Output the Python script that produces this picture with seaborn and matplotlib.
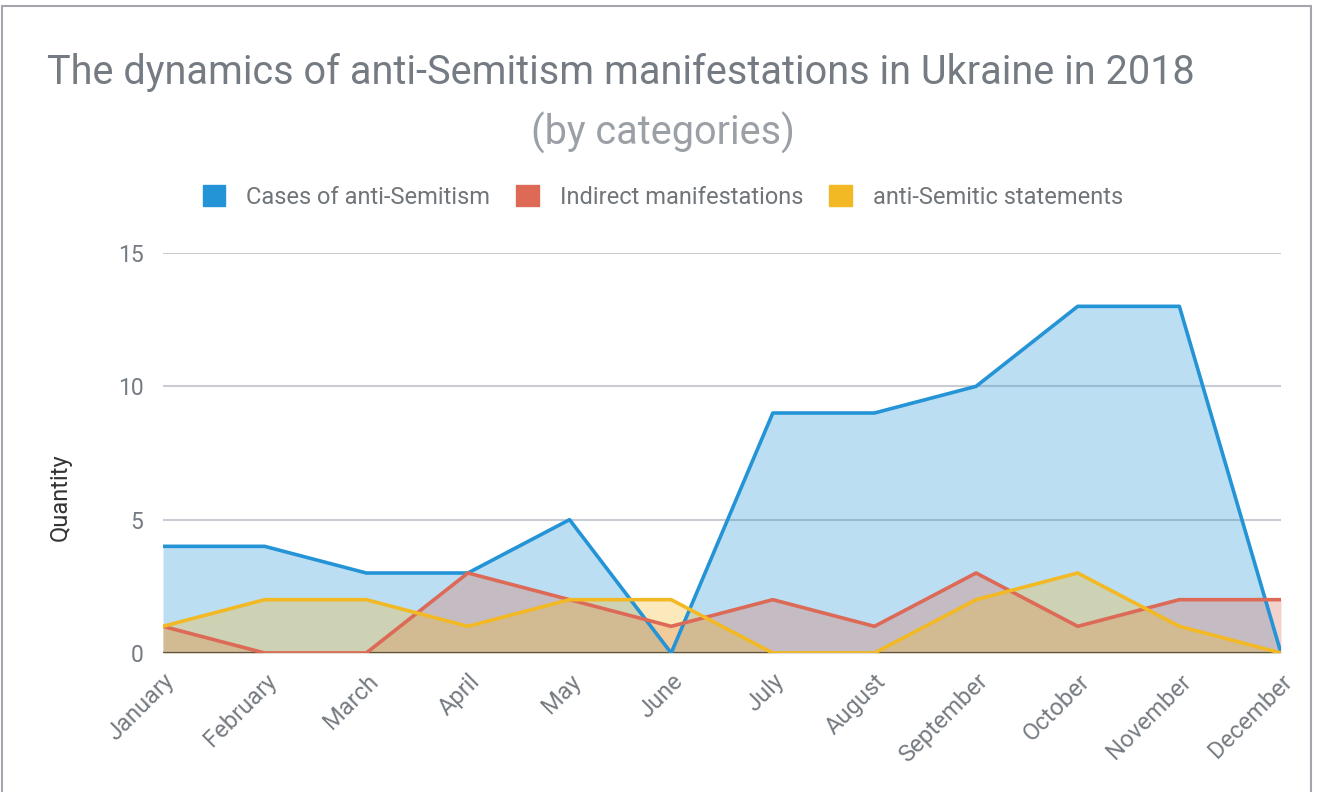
import matplotlib
matplotlib.use("Agg")
from matplotlib import pyplot as plt
from matplotlib.patches import Rectangle
import numpy as np
import pandas as pd
import seaborn as sns

months = ["January", "February", "March", "April", "May", "June",
          "July", "August", "September", "October", "November", "December"]
cases = [4, 4, 3, 3, 5, 0, 9, 9, 10, 13, 13, 0]
indirect = [1, 0, 0, 3, 2, 1, 2, 1, 3, 1, 2, 2]
statements = [1, 2, 2, 1, 2, 2, 0, 0, 2, 3, 1, 0]
series_names = ["Cases of anti-Semitism", "Indirect manifestations", "anti-Semitic statements"]
colors = ["#2494d6", "#dc6a57", "#f2b924"]

sns.set_style("white")
plt.rcParams["font.family"] = ["Roboto", "DejaVu Sans"]

df = pd.DataFrame({"month": months, series_names[0]: cases,
                   series_names[1]: indirect, series_names[2]: statements})
df["pos"] = np.arange(len(months))
long_df = df.melt(id_vars=["month", "pos"], var_name="series", value_name="value")

fig = plt.figure(figsize=(13.22, 7.92), dpi=100)
ax = fig.add_axes([163 / 1322, 1 - 653 / 792, (1281 - 163) / 1322, 400 / 792])

for name, col in zip(series_names, colors):
    ax.fill_between(df["pos"], df[name], 0, color=col, alpha=0.3, lw=0, zorder=1)

sns.lineplot(data=long_df, x="pos", y="value", hue="series", palette=colors,
             hue_order=series_names, lw=2.6, ax=ax, legend=False, zorder=3)

ax.set_xlim(0, len(months) - 1)
ax.set_ylim(0, 15)
ax.set_yticks([0, 5, 10, 15])
ax.set_xticks(df["pos"])
ax.set_xticklabels(months, rotation=45, ha="right", rotation_mode="anchor")
for y in [5, 10, 15]:
    ax.axhline(y, color="#c9cdd3", lw=1.5, zorder=0)
ax.axhline(0, color="#5e5446", lw=1.6, zorder=2)
ax.tick_params(axis="x", length=0, labelsize=17, labelcolor="#757b82", pad=12)
ax.tick_params(axis="y", length=0, labelsize=16.5, labelcolor="#757b82", pad=14)
ax.set_xlabel("")
ax.set_ylabel("Quantity", fontsize=17, color="#333333")
ax.yaxis.set_label_coords(-0.082, 0.39)
sns.despine(ax=ax, left=True, bottom=True, top=True, right=True)

fig.text(47 / 1322, 1 - 72 / 792, "The dynamics of anti-Semitism manifestations in Ukraine in 2018",
         fontsize=28.5, color="#757b83", ha="left", va="center")
fig.text(663 / 1322, 1 - 133 / 792, "(by categories)",
         fontsize=28.5, color="#9ba0a6", ha="center", va="center")

handles = [Rectangle((0, 0), 1, 1, color=c) for c in colors]
fig.legend(handles, series_names, loc="center", bbox_to_anchor=(663 / 1322, 1 - 197 / 792),
           ncol=3, frameon=False, fontsize=17, labelcolor="#70757a",
           handlelength=0.95, handleheight=0.95, handletextpad=0.9, columnspacing=1.1)

fig.patches.append(Rectangle((2 / 1322, -0.05), 1309 / 1322, 1.05 - 6 / 792,
                             transform=fig.transFigure, fill=False,
                             edgecolor="#a3a7ad", lw=1.5))

fig.savefig("out.png", dpi=100)
